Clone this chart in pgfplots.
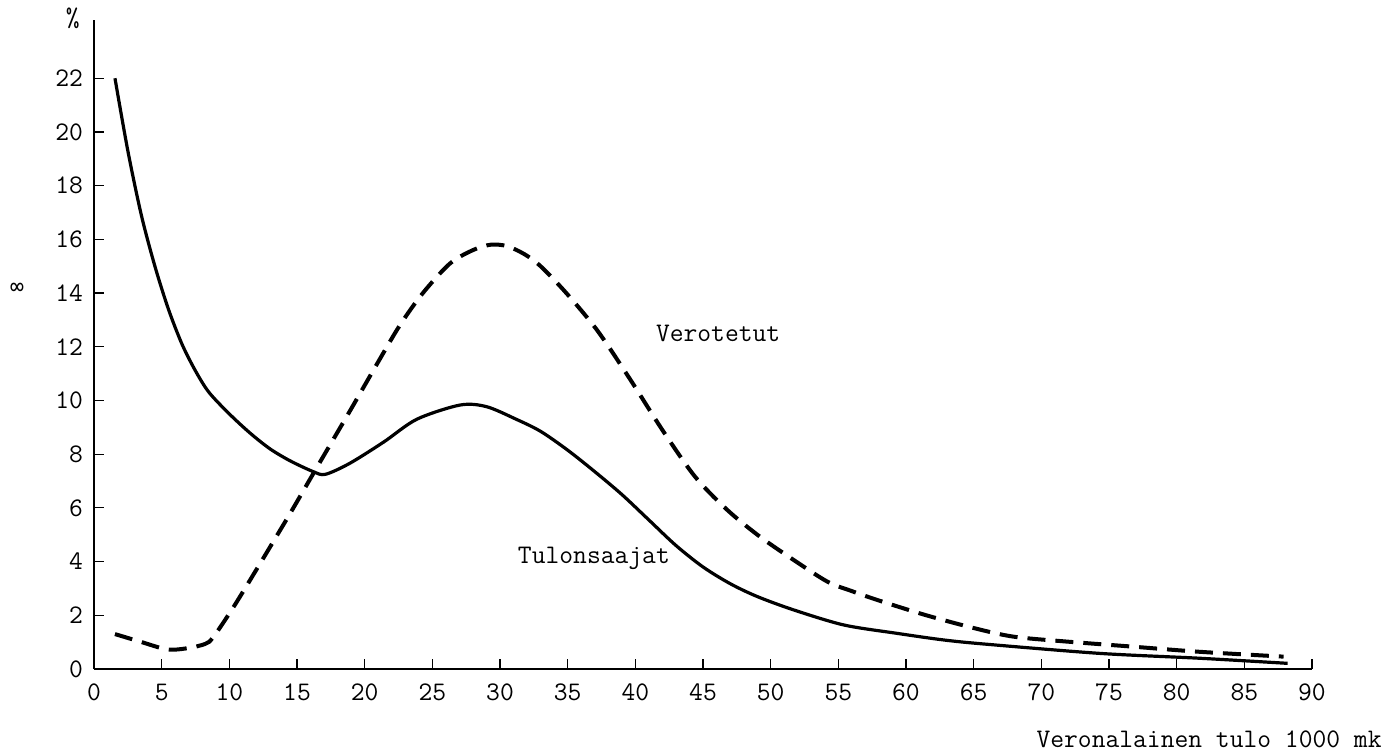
\documentclass[border=0pt]{standalone}
\usepackage{fontspec}
\setmainfont{Liberation Mono}
\newfontfamily\symfont{DejaVu Sans Mono}
\usepackage{pgfplots}
\pgfplotsset{compat=1.18}
\newcommand\tw{\ttfamily\fontsize{13.4}{15}\selectfont}

\begin{document}
\begin{tikzpicture}
\begin{axis}[
  scale only axis,
  width=609pt, height=324.5pt,
  xmin=0, xmax=90, ymin=0, ymax=24.17,
  axis x line=bottom, axis y line=left,
  axis line style={-, line width=1pt},
  xtick={0,5,...,90},
  ytick={0,2,...,22},
  tick align=inside,
  major tick length=5pt,
  tick style={black, line width=0.6pt},
  /pgf/number format/assume math mode=true,
  tick label style={font=\tw},
  xticklabel style={yshift=-4pt},
  yticklabel style={xshift=-2pt},
  clip=false,
]
% Tulonsaajat
\addplot[black, line width=1.6pt, smooth, tension=0.5] coordinates {
  (1.55,22.0) (2.5,19.3) (3.5,16.9) (4.5,15.0) (5.5,13.4) (6.5,12.1)
  (7.5,11.1) (8.5,10.3) (10,9.5) (11.5,8.8) (13,8.2) (14.5,7.75)
  (16.2,7.35) (17.1,7.25) (18.9,7.66) (21.4,8.45) (23.85,9.3) (27.05,9.83)
  (29.0,9.77) (31.2,9.3) (33,8.85) (35,8.15) (37,7.35) (39,6.5)
  (41,5.55) (43,4.6) (45,3.8) (47,3.18) (49,2.7) (51.7,2.2)
  (55.4,1.64) (59.3,1.33) (62.8,1.08) (66.0,0.92) (74.35,0.58)
  (81.7,0.4) (88.2,0.21)
};
% Verotetut
\addplot[black, line width=2pt, dash pattern=on 9pt off 5pt, smooth, tension=0.5] coordinates {
  (1.55,1.30) (3.4,1.02) (5.4,0.73) (6.85,0.77) (8.2,0.93) (8.8,1.18)
  (10.3,2.3) (12.3,3.95) (14.5,5.8) (16.46,7.5) (18.9,9.6) (20.9,11.35)
  (22.6,12.8) (24.3,14.0) (26.3,15.1) (28,15.6) (29.3,15.8) (30.5,15.75)
  (31.8,15.45) (33.0,15.0) (34.9,14.0) (37.2,12.6) (39.6,10.8) (42.0,8.9)
  (44.4,7.17) (46.8,5.92) (49.2,4.93) (51.7,4.06) (54.2,3.25) (56,2.9)
  (58,2.55) (61.5,2.0) (65.2,1.5) (68,1.2) (71.9,1.02) (76.8,0.83)
  (81.7,0.64) (87.9,0.46)
};
\node[anchor=west, inner sep=0pt, font=\tw] at (axis cs:41.5,12.5) {Verotetut};
\node[anchor=west, inner sep=0pt, font=\tw] at (axis cs:31.3,4.13) {Tulonsaajat};
\node[anchor=east, inner sep=0pt, font=\tw, xshift=-7pt] at (axis cs:0,24.25) {\%};
\node[font=\symfont\fontsize{11.5}{13}\selectfont, xshift=-38.5pt] at (axis cs:0,14.15) {∞};
\node[anchor=east, inner sep=0pt, font=\tw, xshift=35pt, yshift=-35pt] at (axis cs:90,0) {Veronalainen tulo 1000 mk};
\end{axis}
\path[use as bounding box] ([xshift=-47pt,yshift=-42pt]current axis.south west) rectangle ([xshift=43.5pt,yshift=10pt]current axis.north east);
\end{tikzpicture}
\end{document}
